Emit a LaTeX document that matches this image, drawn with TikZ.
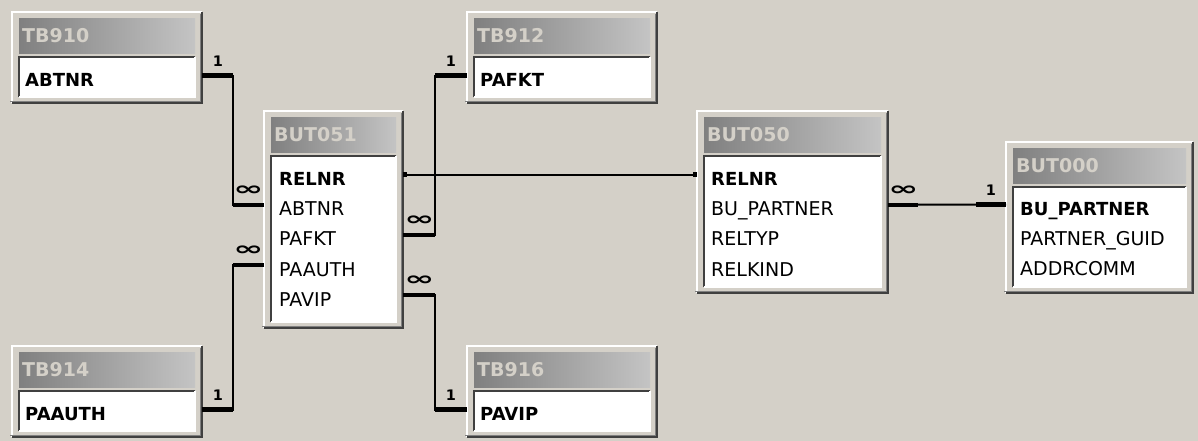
\documentclass[tikz,border=0pt]{standalone}
\usepackage{fontspec}
\setmainfont{DejaVu Sans}
\usepackage{graphicx}
\usetikzlibrary{positioning,arrows.meta}

\definecolor{winbg}{HTML}{D4D0C8}
\definecolor{bardark}{HTML}{808080}
\definecolor{barlight}{HTML}{C4C4C4}
\definecolor{edgedark}{HTML}{404040}
\definecolor{edgemid}{HTML}{808080}

\newcommand\infsym{\scalebox{1.9}[1]{\fontsize{19}{19}\selectfont ∞}}

\begin{document}
\begin{tikzpicture}[
  x=1pt, y=-1pt,
  tbl/.style={anchor=north west, fill=winbg, inner sep=0pt},
  titlebar/.style={anchor=north west, inner xsep=3pt, inner ysep=0pt, minimum height=35pt,
    left color=bardark, right color=barlight, text=winbg, align=left,
    font=\fontsize{19}{22}\selectfont\bfseries},
  fieldbox/.style={anchor=north west, fill=white, inner sep=0pt},
  field/.style={text width=#1, text height=22pt, text depth=0pt, inner sep=0pt,
    align=left, font=\fontsize{19}{22}\selectfont},
  keyfield/.style={field=#1, font=\fontsize{18}{22}\selectfont\bfseries},
  link/.style={draw=black, line width=2pt},
  stub/.style={draw=black, line width=4.5pt},
  card/.style={inner sep=0pt, font=\fontsize{14.5}{14.5}\selectfont\bfseries}
]
  \fill[winbg] (0,0) rectangle (1198,441);
  \useasboundingbox (0,0) rectangle (1198,441);

  % table frames, title bars and field areas
  \foreach \n/\t/\x/\y/\w/\h in {tb910/TB910/12/12/190/91, tb912/TB912/467/12/190/91,
      tb914/TB914/12/346/190/91, tb916/TB916/467/346/190/91,
      but051/BUT051/264/111/139/217, but050/BUT050/697/111/191/182,
      but000/BUT000/1006/142/187/151}{
    \pgfmathsetmacro\tw{\w-20}
    \pgfmathsetmacro\bw{\w-14}
    \pgfmathsetmacro\bh{\h-52}
    \node[tbl, minimum width=\w pt, minimum height=\h pt] (\n) at (\x,\y) {};
    \node[titlebar, text width=\tw pt] (\n-title) at ([xshift=7pt,yshift=-6pt]\n.north west) {\t};
    \node[fieldbox, minimum width=\bw pt, minimum height=\bh pt] (\n-box) at ([yshift=-4pt]\n-title.south west) {};
    \draw[white, line width=2pt] (\n.south west) |- (\n.north east);
    \draw[edgemid, line width=1pt] ([xshift=-2pt,yshift=2pt]\n.south west) -| ([xshift=-2pt,yshift=-2pt]\n.north east);
    \draw[edgedark, line width=2pt] (\n.south west) -| (\n.north east);
    \draw[edgedark, line width=2pt] (\n-box.south west) |- (\n-box.north east);
    \draw[white, line width=2pt] (\n-box.south west) -| (\n-box.north east);
  }

  % fields
  \node[keyfield=160pt, anchor=north west] (t910-abtnr) at ([xshift=6pt,yshift=-7pt]tb910-box.north west) {ABTNR};
  \node[keyfield=160pt, anchor=north west] (t912-pafkt) at ([xshift=6pt,yshift=-7pt]tb912-box.north west) {PAFKT};
  \node[keyfield=160pt, anchor=north west] (t914-paauth) at ([xshift=6pt,yshift=-7pt]tb914-box.north west) {PAAUTH};
  \node[keyfield=160pt, anchor=north west] (t916-pavip) at ([xshift=6pt,yshift=-7pt]tb916-box.north west) {PAVIP};

  \node[keyfield=110pt, anchor=north west] (b51-relnr) at ([xshift=8pt,yshift=-7pt]but051-box.north west) {RELNR};
  \node[field=110pt, below=7.75pt of b51-relnr] (b51-abtnr) {ABTNR};
  \node[field=110pt, below=7.75pt of b51-abtnr] (b51-pafkt) {PAFKT};
  \node[field=110pt, below=7.75pt of b51-pafkt] (b51-paauth) {PAAUTH};
  \node[field=110pt, below=7.75pt of b51-paauth] (b51-pavip) {PAVIP};

  \node[keyfield=160pt, anchor=north west] (b50-relnr) at ([xshift=7pt,yshift=-7pt]but050-box.north west) {RELNR};
  \node[field=160pt, below=7.75pt of b50-relnr] (b50-bupartner) {BU\_PARTNER};
  \node[field=160pt, below=7.75pt of b50-bupartner] (b50-reltyp) {RELTYP};
  \node[field=160pt, below=7.75pt of b50-reltyp] (b50-relkind) {RELKIND};

  \node[keyfield=160pt, anchor=north west] (b00-bupartner) at ([xshift=7pt,yshift=-6pt]but000-box.north west) {BU\_PARTNER};
  \node[field=160pt, below=7.75pt of b00-bupartner] (b00-guid) {PARTNER\_GUID};
  \node[field=160pt, below=7.75pt of b00-guid] (b00-addrcomm) {ADDRCOMM};

  % relationships
  \draw[link] (tb910.east |- t910-abtnr) -- ++(31,0) |- (but051.west |- b51-abtnr);
  \draw[stub] (tb910.east |- t910-abtnr) -- ++(31,0) node[card, midway, above=7pt] (o-abtnr) {1};
  \draw[stub] (but051.west |- b51-abtnr) -- ++(-31,0) node[card, midway, above=7pt] (m-abtnr) {\infsym};

  \draw[link] (tb914.east |- t914-paauth) -- ++(31,0) |- (but051.west |- b51-paauth);
  \draw[stub] (tb914.east |- t914-paauth) -- ++(31,0) node[card, midway, above=7pt] (o-paauth) {1};
  \draw[stub] (but051.west |- b51-paauth) -- ++(-31,0) node[card, midway, above=7pt] (m-paauth) {\infsym};

  \draw[link] (but051.east |- b51-pafkt) -- ++(32,0) |- (tb912.west |- t912-pafkt);
  \draw[stub] (but051.east |- b51-pafkt) -- ++(32,0) node[card, midway, above=7pt] (m-pafkt) {\infsym};
  \draw[stub] (tb912.west |- t912-pafkt) -- ++(-32,0) node[card, midway, above=7pt] (o-pafkt) {1};

  \draw[link] (but051.east |- b51-pavip) -- ++(32,0) |- (tb916.west |- t916-pavip);
  \draw[stub] (but051.east |- b51-pavip) -- ++(32,0) node[card, midway, above=7pt] (m-pavip) {\infsym};
  \draw[stub] (tb916.west |- t916-pavip) -- ++(-32,0) node[card, midway, above=7pt] (o-pavip) {1};

  \draw[link, {Square[length=4pt,width=5pt]}-{Square[length=4pt,width=5pt]}]
    (but051.east |- b51-relnr) -- (but050.west |- b50-relnr);

  \draw[link] (but050.east |- b50-bupartner) -- (but000.west |- b00-bupartner);
  \draw[stub] (but050.east |- b50-bupartner) -- ++(30,0) node[card, midway, above=7pt] (m-bupartner) {\infsym};
  \draw[stub] (but000.west |- b00-bupartner) -- ++(-30,0) node[card, midway, above=7pt] (o-bupartner) {1};
\end{tikzpicture}
\end{document}
